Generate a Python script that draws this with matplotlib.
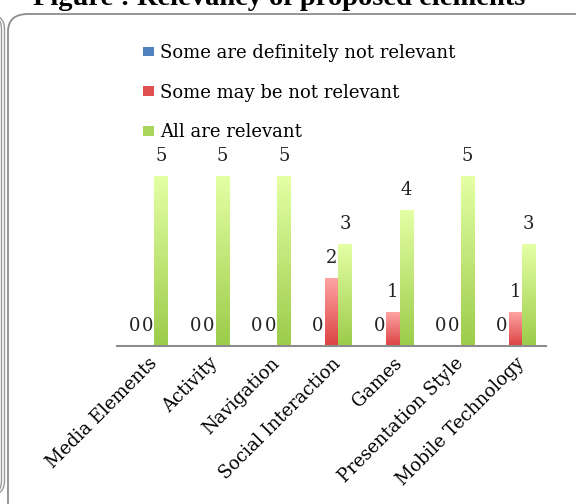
import matplotlib
matplotlib.use('Agg')
import matplotlib.pyplot as plt
import numpy as np
from matplotlib.patches import FancyBboxPatch
from matplotlib.colors import LinearSegmentedColormap

# categories and counts
categories = ['Media Elements', 'Activity', 'Navigation', 'Social Interaction',
              'Games', 'Presentation Style', 'Mobile Technology']
not_relevant = [0, 0, 0, 0, 0, 0, 0]
maybe_not = [0, 0, 0, 2, 1, 0, 1]
all_relevant = [5, 5, 5, 3, 4, 5, 3]
series_names = ['Some are definitely not relevant', 'Some may be not relevant',
                'All are relevant']
title = 'Figure : Relevancy of proposed elements'

plt.rcParams['font.family'] = ['DejaVu Serif']

fig = plt.figure(figsize=(5.76, 5.04), dpi=100)
ax = fig.add_axes([117 / 576, 1 - 346 / 504, 429 / 576, 204 / 504])

x = np.arange(len(categories))
w = 0.22
series = [not_relevant, maybe_not, all_relevant]
solid = ['#4f81bd', '#e05050', '#a8d65a']
grads = [('#2f65b8', '#8fb4ee'), ('#dc4242', '#ffa3a3'), ('#9ccc4a', '#e4ffa4')]
fs = 13

for i, vals in enumerate(series):
    pos = x + (i - 1) * w
    bars = ax.bar(pos, vals, w, color=solid[i], label=series_names[i], zorder=2)
    cmap = LinearSegmentedColormap.from_list('g%d' % i, grads[i])
    for b in bars:
        h = b.get_height()
        if h > 0:
            # vertical gradient over each bar
            ax.imshow(np.linspace(0, 1, 100).reshape(-1, 1), cmap=cmap, origin='lower',
                      aspect='auto', extent=[b.get_x(), b.get_x() + b.get_width(), 0, h],
                      zorder=3)
        ax.text(b.get_x() + b.get_width() / 2, h + 0.6, '%d' % h,
                ha='center', va='center', fontsize=fs, color='#222222', zorder=5)

ax.set_xlim(-0.5, len(categories) - 0.5)
ax.set_ylim(0, 6)
ax.set_xticks(x)
ax.set_xticklabels(categories, rotation=45, ha='right', rotation_mode='anchor', fontsize=fs)
ax.tick_params(axis='x', length=0, pad=6)
ax.set_yticks([])
for s in ['top', 'right', 'left']:
    ax.spines[s].set_visible(False)
ax.spines['bottom'].set_color('#8c8c8c')
ax.spines['bottom'].set_linewidth(1.5)
ax.spines['bottom'].set_zorder(6)
ax.set_facecolor('none')

ax.legend(loc='upper left', bbox_to_anchor=(143 / 576, 1 - 44 / 504),
          bbox_transform=fig.transFigure, frameon=False, fontsize=fs,
          handlelength=0.62, handleheight=0.45, handletextpad=0.3,
          labelspacing=1.2, borderpad=0, borderaxespad=0)

# frame of the chart area and the neighbouring box edge
fig.patches.append(FancyBboxPatch((8 / 576, -20 / 504), 600 / 576, 510 / 504,
                                  boxstyle='round,pad=0,rounding_size=0.035',
                                  transform=fig.transFigure, fill=False,
                                  edgecolor='#8c8c8c', linewidth=1.3))
for xr in [1.5, 4.5]:
    fig.patches.append(FancyBboxPatch(((xr - 100) / 576, 8 / 504), 100 / 576, 482 / 504,
                                      boxstyle='round,pad=0,rounding_size=0.03',
                                      transform=fig.transFigure, fill=False,
                                      edgecolor='#999999', linewidth=1.0))

fig.text(0.485, 1 - 5 / 504, title, ha='center', va='baseline',
         fontsize=20.5, fontweight='bold', family='Liberation Serif')

fig.savefig('out.png', dpi=100)
